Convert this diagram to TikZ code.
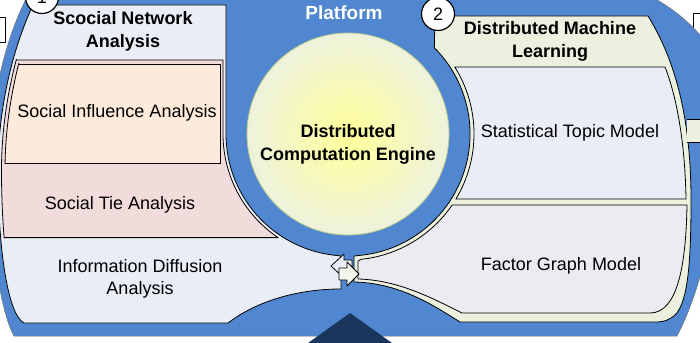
\documentclass[tikz,border=0pt]{standalone}
\usepackage{fontspec}
\setmainfont{Liberation Sans}
\definecolor{platblue}{HTML}{5087D0}
\definecolor{navy}{HTML}{1B365D}
\definecolor{panelL}{HTML}{E9EDF5}
\definecolor{pinkbox}{HTML}{F2DCDB}
\definecolor{peach}{HTML}{FDEADA}
\definecolor{greenpanel}{HTML}{EBF1DE}
\definecolor{stmcol}{HTML}{E9EDF6}
\definecolor{fgmcol}{HTML}{EEEAF1}
\definecolor{yellowin}{HTML}{FFFF99}
\definecolor{yellowout}{HTML}{EEF2DC}
\definecolor{ringline}{HTML}{B9CB8A}
\begin{document}
\begin{tikzpicture}[x=1pt,y=-1pt,line join=round]
\tikzset{
  bord/.style={draw=black,line width=0.8pt},
  lbl/.style={font=\fontsize{18}{22}\selectfont,align=center,inner sep=0pt},
  ttl/.style={font=\fontsize{18}{23}\selectfont\bfseries,align=center,inner sep=0pt},
  badge/.style={circle,draw=black,line width=1.2pt,fill=white,minimum size=33pt,inner sep=0pt,font=\fontsize{18}{18}\selectfont},
}
\useasboundingbox (0,0) rectangle (700,342);
\clip (0,0) rectangle (700,342);
\fill[white] (0,0) rectangle (700,342);
% outside boxes (cut off)
\filldraw[fill=white,bord] (-10,17) rectangle (5,42);
\filldraw[fill=white,bord] (693,13) rectangle (715,37);
% blue platform
\filldraw[fill=platblue,draw=black!55,line width=0.5pt]
  (27,-3) -- (652,-3) .. controls (672,8) and (690,22) .. (706,42) -- (706,255)
  .. controls (697,290) and (688,315) .. (677,336) -- (14,336)
  .. controls (2,315) and (-10,250) .. (-10,170) .. controls (-10,100) and (5,40) .. (27,-3) -- cycle;
% left panel
\filldraw[fill=panelL,bord]
  (33,5) -- (226,5) -- (226,134) arc[start angle=180,end angle=97,radius=122]
  -- (341,256) -- (341,289) .. controls (300,289) and (258,300) .. (228,323)
  -- (24,323) .. controls (8,315) and (-2,250) .. (-2,170)
  .. controls (-2,110) and (12,50) .. (33,5) -- cycle;
% pink box
\begin{scope}
  \clip (27.5,330) .. controls (11.5,315) and (1.5,250) .. (1.5,170) .. controls (1.5,110) and (15.5,50) .. (36.5,0) -- (400,0) -- (400,330) -- cycle;
  \filldraw[fill=pinkbox,bord] (-20,60) -- (223,60) -- (223,134) arc[start angle=180,end angle=124,radius=125] -- (-20,237.6) -- cycle;
\end{scope}
\begin{scope}
  \clip (-20,60) rectangle (100,237.6);
  \draw[bord] (27.5,330) .. controls (11.5,315) and (1.5,250) .. (1.5,170) .. controls (1.5,110) and (15.5,50) .. (36.5,0);
\end{scope}
% peach box
\begin{scope}
  \clip (31,330) .. controls (15,315) and (5,250) .. (5,170) .. controls (5,110) and (19,50) .. (40,0) -- (400,0) -- (400,330) -- cycle;
  \filldraw[fill=peach,bord] (-20,64) rectangle (220,163);
\end{scope}
\begin{scope}
  \clip (-20,64) rectangle (100,163);
  \draw[bord] (31,330) .. controls (15,315) and (5,250) .. (5,170) .. controls (5,110) and (19,50) .. (40,0);
\end{scope}
% right panel
\filldraw[fill=greenpanel,bord]
  (435,16) -- (648,16) .. controls (672,55) and (691,110) .. (691,200)
  .. controls (691,262) and (688,300) .. (676,314) .. controls (670,320) and (664,322) .. (655,322)
  -- (460,322) .. controls (430,303) and (398,283) .. (354,282) -- (354,256)
  -- (360.8,255.3) arc[start angle=84,end angle=-45,radius=122] -- cycle;
% statistical topic model box
\filldraw[fill=stmcol,bord]
  (454.7,67) -- (665,67) .. controls (676,95) and (685,140) .. (686,199)
  -- (455.9,199) arc[start angle=31.1,end angle=-32.1,radius=126] -- cycle;
% factor graph model box
\filldraw[fill=fgmcol,bord]
  (452.1,205) -- (687,205) .. controls (686,260) and (679,313) .. (650,313)
  -- (462,313) .. controls (432,298) and (398,280) .. (358,279) -- (358,261)
  -- (361.2,259.3) arc[start angle=84,end angle=34.3,radius=126] -- cycle;
% green band to the right
\fill[greenpanel] (686.5,119) rectangle (705,142);
\draw[bord] (686.5,119) -- (705,119) (686.5,142) -- (705,142);
% double arrow in the neck
\filldraw[fill=panelL,bord] (331,266) -- (344,254) -- (344,260) -- (352,260) -- (352,272) -- (344,272) -- (344,278) -- cycle;
\filldraw[fill=greenpanel!60!white,bord] (359,274) -- (347,262) -- (347,268) -- (339,268) -- (339,280) -- (347,280) -- (347,286) -- cycle;
% central engine
\shade[inner color=yellowin,outer color=yellowout] (348,134) circle (101);
\draw[ringline,line width=0.8pt] (348,134) circle (101);
% navy triangle
\fill[navy] (350,313) -- (392,343) -- (308,343) -- cycle;
% texts
\node[ttl,text=white,font=\fontsize{19}{23}\selectfont\bfseries] (plat) at (344,13) {Platform};
\node[ttl] (sna) at (123,31) {Scocial Network\\Analysis};
\node[lbl] (sia) at (117,113) {Social Influence Analysis};
\node[lbl] (sta) at (120,205) {Social Tie Analysis};
\node[lbl] (ida) at (140,279) {Information Diffusion\\Analysis};
\node[ttl] (dce) at (348,144) {Distributed\\Computation Engine};
\node[ttl] (dml) at (550,41) {Distributed Machine\\Learning};
\node[lbl] (stm) at (570,133) {Statistical Topic Model};
\node[lbl] (fgm) at (561,266) {Factor Graph Model};
\node[badge] (b1) at (42,-3) {1};
\node[badge] (b2) at (438,14) {2};
\end{tikzpicture}
\end{document}
